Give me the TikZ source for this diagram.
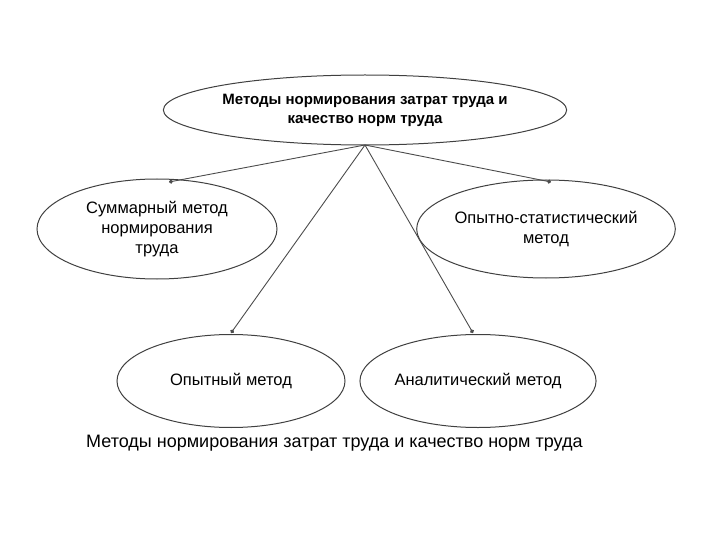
\documentclass[tikz,border=0pt]{standalone}
\usepackage{fontspec}
\setmainfont{Liberation Sans}
\usetikzlibrary{shapes.geometric,arrows.meta}
\begin{document}
\begin{tikzpicture}[x=1pt,y=-1pt,
  ell/.style={ellipse,draw=black!75,line width=1pt,align=center,inner sep=0pt,font=\fontsize{16.5}{20}\selectfont},
  conn/.style={draw=black!70,line width=0.9pt,-{Circle[length=4pt]}}]
\useasboundingbox (0,0) rectangle (720,540);
\node[ell,minimum width=390,minimum height=70,font=\bfseries\fontsize{15}{19}\selectfont] (top) at (365,110) {Методы нормирования затрат труда и\\качество норм труда};
\node[ell,minimum width=240,minimum height=100] (l) at (157,229) {Суммарный метод\\нормирования\\труда};
\node[ell,minimum width=227,minimum height=98] (r) at (546,229) {Опытно-статистический\\метод};
\node[ell,minimum width=228,minimum height=93] (bl) at (231,381) {Опытный метод};
\node[ell,minimum width=225,minimum height=93] (br) at (478,381) {Аналитический метод};
\coordinate (o) at (365,145);
\coordinate (tl) at (169,182);
\coordinate (tr) at (551,182);
\coordinate (tbl) at (231,333);
\coordinate (tbr) at (473,333);
\draw[conn] (o) -- (tl);
\draw[conn] (o) -- (tr);
\draw[conn] (o) -- (tbl);
\draw[conn] (o) -- (tbr);
\node[anchor=west,font=\fontsize{18}{21}\selectfont,inner sep=0pt] (cap) at (86,443) {Методы нормирования затрат труда и качество норм труда};
\end{tikzpicture}
\end{document}
